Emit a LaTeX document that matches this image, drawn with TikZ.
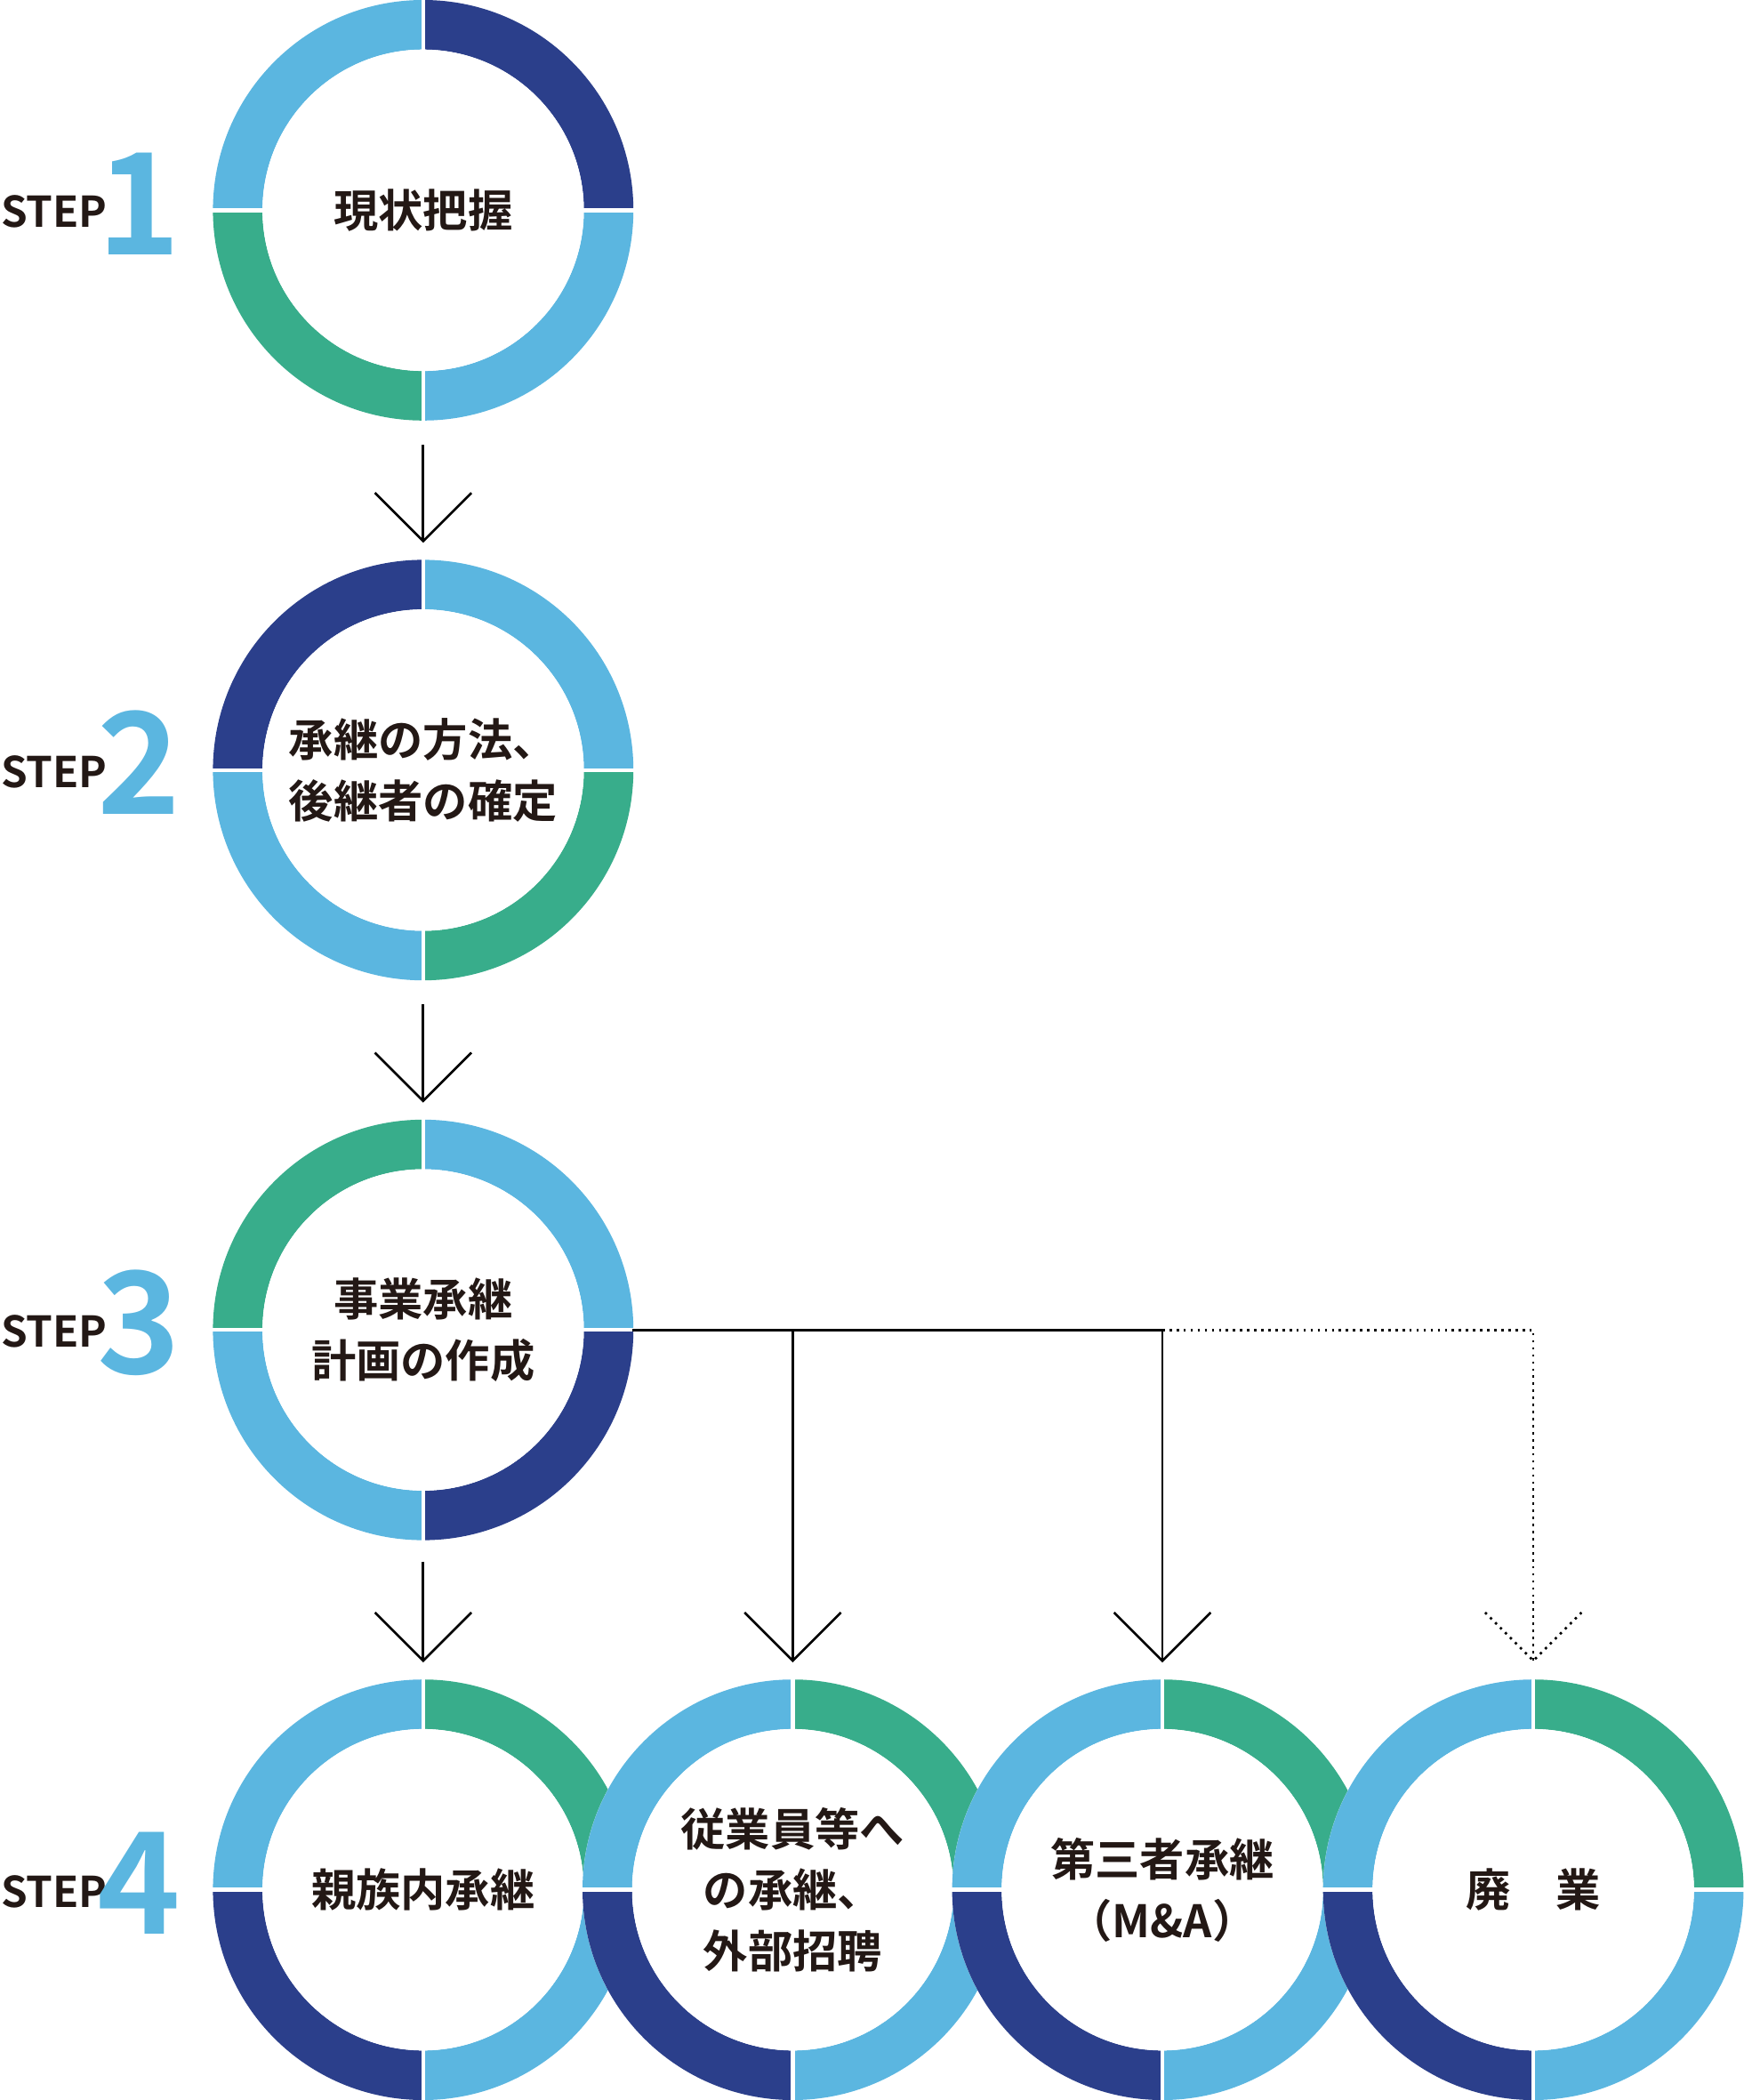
\documentclass[tikz,border=0pt]{standalone}
\usepackage{fontspec}
\setmainfont{Noto Sans CJK JP}[BoldFont={* Bold}]
\usetikzlibrary{calc}
\definecolor{lb}{HTML}{5BB6E0}
\definecolor{nv}{HTML}{2B3F8B}
\definecolor{gr}{HTML}{38AD8B}
\definecolor{tx}{HTML}{231815}
\tikzset{
  lbl/.style={circle,minimum size=2.4cm,align=center,font=\bfseries\fontsize{9.5pt}{13pt}\selectfont,text=tx},
  arr/.style={line width=0.5pt,black},
  st/.style={anchor=base west,font=\bfseries\fontsize{9pt}{9pt}\selectfont,text=tx,inner sep=0},
  num/.style={anchor=base,font=\bfseries\fontsize{30pt}{30pt}\selectfont,text=lb,inner sep=0},
}
% name, x, y, TR, BR, BL, TL, text
\newcommand\myring[8]{%
  \fill[white] (#2,#3) circle (1.57);
  \draw[line width=0.37cm,#4] ($(#2,#3)+(0,1.385)$) arc (90:0:1.385);
  \draw[line width=0.37cm,#5] ($(#2,#3)+(1.385,0)$) arc (0:-90:1.385);
  \draw[line width=0.37cm,#6] ($(#2,#3)+(0,-1.385)$) arc (-90:-180:1.385);
  \draw[line width=0.37cm,#7] ($(#2,#3)+(-1.385,0)$) arc (180:90:1.385);
  \draw[white,line width=0.03cm] ($(#2,#3)+(0,1.58)$) -- ($(#2,#3)+(0,-1.58)$);
  \draw[white,line width=0.03cm] ($(#2,#3)+(1.58,0)$) -- ($(#2,#3)+(-1.58,0)$);
  \fill[white] (#2,#3) circle (1.2);
  \node[lbl] (#1) at (#2,#3) {#8};
}
\newcommand\vhead[2]{% tip coordinate, style
  \draw[arr,#2] ($(#1)+(-0.36,0.36)$) -- (#1) -- ($(#1)+(0.36,0.36)$);
}
\begin{document}
\begin{tikzpicture}
\useasboundingbox (0,0) rectangle (13.02,-15.68);
\myring{c1}{3.16}{-1.57}{nv}{lb}{gr}{lb}{現状把握}
\myring{c2}{3.16}{-5.75}{lb}{gr}{lb}{nv}{承継の方法、\\後継者の確定}
\myring{c3}{3.16}{-9.93}{lb}{nv}{lb}{gr}{事業承継\\計画の作成}
\myring{d1}{3.16}{-14.11}{gr}{lb}{nv}{lb}{親族内承継}
\myring{d2}{5.92}{-14.11}{gr}{lb}{nv}{lb}{従業員等へ\\の承継、\\外部招聘}
\myring{d3}{8.68}{-14.11}{gr}{lb}{nv}{lb}{第三者承継\\（M\&A）}
\myring{d4}{11.45}{-14.11}{gr}{lb}{nv}{lb}{廃\quad 業}
% step labels
\foreach \n/\y in {1/-1.70,2/-5.88,3/-10.06,4/-14.24}{
  \node[st] (s\n) at (0,\y) {STEP};
  \node[num] (n\n) at (1.04,\y-0.2) {\n};
}
% arrows
\coordinate (a1s) at (3.16,-3.32); \coordinate (a1) at (3.16,-4.04);
\coordinate (a2s) at (3.16,-7.50); \coordinate (a2) at (3.16,-8.22);
\coordinate (a3s) at (3.16,-11.66); \coordinate (a3) at (3.16,-12.40);
\coordinate (b0) at (4.72,-9.93);
\coordinate (b2) at (5.92,-9.93); \coordinate (t2) at (5.92,-12.40);
\coordinate (b3) at (8.68,-9.93); \coordinate (t3) at (8.68,-12.40);
\coordinate (b4) at (11.45,-9.93); \coordinate (t4) at (11.45,-12.40);
\draw[arr] (a1s) -- (a1); \vhead{a1}{}
\draw[arr] (a2s) -- (a2); \vhead{a2}{}
\draw[arr] (a3s) -- (a3); \vhead{a3}{}
\draw[arr] (b0) -- (b3);
\draw[arr] (b2) -- (t2); \vhead{t2}{}
\draw[arr] (b3) -- (t3); \vhead{t3}{}
\draw[arr,densely dotted] (b3) -- (b4) -- (t4); \vhead{t4}{densely dotted}
\end{tikzpicture}
\end{document}
